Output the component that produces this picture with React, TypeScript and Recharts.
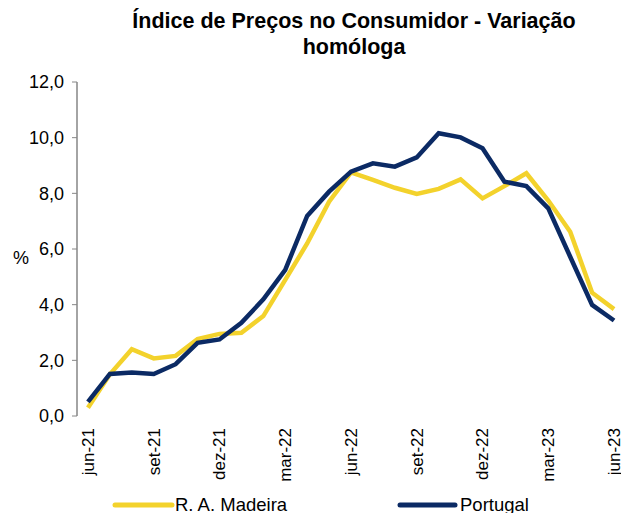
import React from 'react'
import { LineChart, Line, XAxis, YAxis } from 'recharts'

const months = [
  'jun-21', 'jul-21', 'ago-21', 'set-21', 'out-21', 'nov-21', 'dez-21',
  'jan-22', 'fev-22', 'mar-22', 'abr-22', 'mai-22', 'jun-22', 'jul-22',
  'ago-22', 'set-22', 'out-22', 'nov-22', 'dez-22', 'jan-23', 'fev-23',
  'mar-23', 'abr-23', 'mai-23', 'jun-23',
]

const madeira = [
  0.3, 1.5, 2.4, 2.07, 2.16, 2.76, 2.95, 2.99, 3.59, 4.89, 6.2, 7.7, 8.75,
  8.48, 8.2, 7.98, 8.16, 8.5, 7.82, 8.26, 8.72, 7.74, 6.62, 4.43, 3.84,
]

const portugal = [
  0.51, 1.51, 1.56, 1.51, 1.86, 2.63, 2.75, 3.35, 4.19, 5.25, 7.19, 8.06, 8.78,
  9.08, 8.96, 9.29, 10.16, 10.01, 9.62, 8.42, 8.26, 7.46, 5.72, 3.99, 3.43,
]

const seriesNames = ['R. A. Madeira', 'Portugal']
const yTicks = [0, 2, 4, 6, 8, 10, 12]
const labelTicks = [0, 3, 6, 9, 12, 15, 18, 21, 24]
const markTicks = [-0.5, 2.5, 5.5, 8.5, 11.5, 14.5, 17.5, 20.5, 23.5]

const YELLOW = '#F3D22C'
const NAVY = '#0B2A64'
const AXIS = '#868686'
const FONT = 'Arial, "Liberation Sans", sans-serif'

const data = months.map((m, i) => ({ i, month: m, madeira: madeira[i], portugal: portugal[i] }))

function MonthTick(props: any) {
  const { x, y, payload } = props
  return (
    <text
      x={x}
      y={y}
      transform={`rotate(-90, ${x}, ${y})`}
      textAnchor="end"
      dy="0.35em"
      fontSize={17}
      fontFamily={FONT}
      fill="#000"
    >
      {months[payload.value]}
    </text>
  )
}

export default function App() {
  return (
    <div style={{ position: 'absolute', left: 0, top: 0, width: 621, height: 513, overflow: 'hidden', background: '#fff', fontFamily: FONT }}>
      <div style={{ position: 'absolute', left: 0, top: 8, width: 708, textAlign: 'center', fontWeight: 'bold', fontSize: 21.5, lineHeight: '26px', color: '#000' }}>
        Índice de Preços no Consumidor - Variação
        <br />
        homóloga
      </div>
      <LineChart width={640} height={513} data={data} margin={{ top: 82, right: 15, bottom: 0, left: 10 }}>
        <XAxis
          xAxisId="marks"
          type="number"
          dataKey="i"
          domain={[-0.5, 24.5]}
          ticks={markTicks}
          height={0}
          tick={false}
          tickLine={{ stroke: AXIS }}
          tickSize={5}
          axisLine={{ stroke: AXIS, strokeWidth: 1.5 }}
        />
        <XAxis
          xAxisId="labels"
          type="number"
          dataKey="i"
          domain={[-0.5, 24.5]}
          ticks={labelTicks}
          height={97}
          tickLine={false}
          axisLine={false}
          tickSize={0}
          tickMargin={12}
          tick={<MonthTick />}
          interval={0}
        />
        <YAxis
          width={67}
          domain={[0, 12]}
          ticks={yTicks}
          tickFormatter={(v: number) => v.toFixed(1).replace('.', ',')}
          tick={{ fontSize: 18, fill: '#000', fontFamily: FONT }}
          tickLine={{ stroke: AXIS }}
          tickSize={5}
          tickMargin={8}
          axisLine={{ stroke: AXIS, strokeWidth: 1.5 }}
          label={{ value: '%', position: 'insideLeft', offset: 3, dy: 9, fontSize: 18, fill: '#000', fontFamily: FONT }}
        />
        <Line
          xAxisId="labels"
          type="linear"
          dataKey="madeira"
          stroke={YELLOW}
          strokeWidth={4.5}
          dot={false}
          isAnimationActive={false}
        />
        <Line
          xAxisId="labels"
          type="linear"
          dataKey="portugal"
          stroke={NAVY}
          strokeWidth={4.5}
          dot={false}
          isAnimationActive={false}
        />
      </LineChart>
      <svg style={{ position: 'absolute', left: 0, top: 490 }} width={621} height={23}>
        <line x1={115} y1={15} x2={172} y2={15} stroke={YELLOW} strokeWidth={5} strokeLinecap="round" />
        <text x={175} y={21} fontSize={18.5} fontFamily={FONT} fill="#000">{seriesNames[0]}</text>
        <line x1={400} y1={15} x2={455} y2={15} stroke={NAVY} strokeWidth={5} strokeLinecap="round" />
        <text x={460} y={21} fontSize={18.5} fontFamily={FONT} fill="#000">{seriesNames[1]}</text>
      </svg>
    </div>
  )
}
